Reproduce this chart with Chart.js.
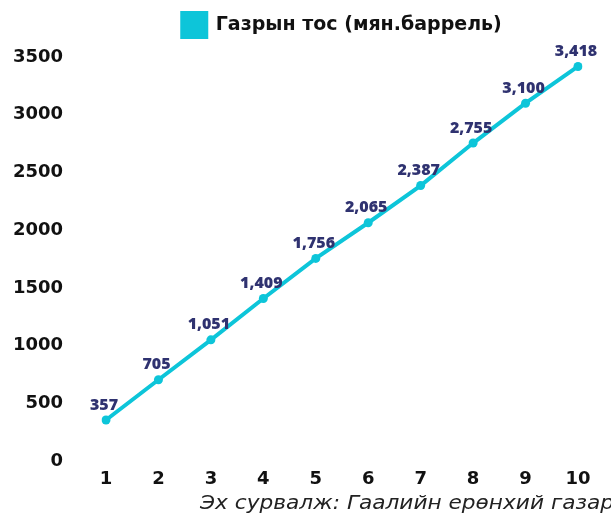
<!DOCTYPE html>
<html><head><meta charset="utf-8">
<script src="https://cdn.jsdelivr.net/npm/chart.js@4"></script>
<style>
html,body{margin:0;padding:0;background:#fff;overflow:hidden;width:611px;height:515px;}
#wrap{position:relative;width:611px;height:515px;overflow:hidden;}
#src{position:absolute;left:200px;top:491px;white-space:nowrap;font:italic 19px "DejaVu Sans";color:#222;transform:scaleX(1.14);transform-origin:left center;}
</style></head>
<body><div id="wrap"><canvas id="c" width="611" height="515"></canvas><div id="src">Эх сурвалж: Гаалийн ерөнхий газар</div></div>
<script>
const categories = ['1','2','3','4','5','6','7','8','9','10'];
const oilValues = [357, 705, 1051, 1409, 1756, 2065, 2387, 2755, 3100, 3418];
const seriesName = 'Газрын тос (мян.баррель)';
const yTicks = [0, 500, 1000, 1500, 2000, 2500, 3000, 3500];

const lineColor = '#0DC5D9';
const labelColor = '#2F3270';
const FONT = '"DejaVu Sans"';

const labelPlugin = {
  id: 'valLabels',
  afterInit(chart) {
    const lg = chart.legend;
    if (lg) {
      const orig = lg.fit.bind(lg);
      lg.fit = function() { orig(); this.height += 10; };
    }
  },
  afterDatasetsDraw(chart) {
    const ctx = chart.ctx;
    const meta = chart.getDatasetMeta(0);
    ctx.save();
    ctx.font = '800 16px "Open Sans"';
    ctx.fillStyle = labelColor;
    ctx.textAlign = 'center';
    ctx.textBaseline = 'middle';
    meta.data.forEach((pt, i) => {
      const v = chart.data.datasets[0].data[i];
      ctx.fillText(v.toLocaleString('en-US'), pt.x - 2, pt.y - 15);
    });
    ctx.restore();
  }
};

new Chart(document.getElementById('c'), {
  type: 'line',
  data: {
    labels: categories,
    datasets: [{
      label: seriesName,
      data: oilValues,
      borderColor: lineColor,
      backgroundColor: lineColor,
      borderWidth: 4,
      pointRadius: 4.5,
      pointBackgroundColor: lineColor,
      pointBorderWidth: 0,
      tension: 0
    }]
  },
  options: {
    responsive: false,
    animation: false,
    devicePixelRatio: 1,
    layout: { padding: { top: 0, right: 33, bottom: 15, left: 0 } },
    plugins: {
      legend: {
        display: true,
        fullSize: false,
        labels: {
          boxWidth: 24, boxHeight: 24, padding: 13,
          color: '#111',
          font: { family: FONT, size: 19, weight: 'bold' }
        }
      },
      tooltip: { enabled: false }
    },
    scales: {
      x: {
        offset: false,
        grid: { display: false, drawTicks: false },
        border: { display: false },
        ticks: { color: '#111', padding: 7, font: { family: FONT, size: 18, weight: 'bold' } }
      },
      y: {
        min: 0, max: 3500,
        afterFit(s) { s.width = 106; },
        afterBuildTicks(s) { s.ticks = yTicks.map(v => ({ value: v })); },
        grid: { display: false, drawTicks: false },
        border: { display: false },
        ticks: { color: '#111', padding: 43, font: { family: FONT, size: 18, weight: 'bold' },
          callback: v => String(v) }
      }
    }
  },
  plugins: [labelPlugin]
});
</script></body></html>
